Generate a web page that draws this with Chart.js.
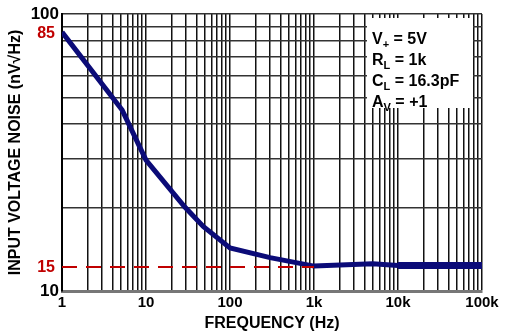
<!DOCTYPE html>
<html>
<head>
<meta charset="utf-8">
<script src="https://cdn.jsdelivr.net/npm/chart.js@4"></script>
<style>
  html, body { margin: 0; padding: 0; background: #fff; }
  #wrap { width: 509px; height: 335px; }
</style>
</head>
<body>
<div id="wrap"><canvas id="noise-chart" width="509" height="335"></canvas></div>
<script>
// values
const freq = [1, 5.2, 10, 29, 48, 100, 300, 1000, 5000, 10000];
const noise = [86, 45, 29.7, 20.1, 17.1, 14.3, 13.2, 12.3, 12.55, 12.35];
const flatFreq = [10000, 100000];
const flatNoise = [12.35, 12.35];
const refFreq = [1, 1000];
const refNoise = [12.2, 12.2];
const xTickLabels = { 1: "1", 10: "10", 100: "100", 1000: "1k", 10000: "10k", 100000: "100k" };
const yTickLabels = { 10: "10", 100: "100" };
const markLabels = ["85", "15"];
const markValues = [86, 12.2];
const boxLines = [["V", "+", " = 5V"], ["R", "L", " = 1k"], ["C", "L", " = 16.3pF"], ["A", "V", " = +1"]];

const FONT = "'Liberation Sans', Arial, sans-serif";

function xy(xs, ys) {
  return xs.map((x, i) => ({ x: x, y: ys[i] }));
}

const overlay = {
  id: "overlay",
  afterDraw(chart) {
    const ctx = chart.ctx;
    const ys = chart.scales.y;
    ctx.save();
    // red marker labels on the left
    ctx.font = "bold 16px " + FONT;
    ctx.fillStyle = "#c00000";
    ctx.textAlign = "right";
    ctx.textBaseline = "middle";
    markLabels.forEach((t, i) => {
      ctx.fillText(t, 55, ys.getPixelForValue(markValues[i]) + 1);
    });
    // conditions box
    ctx.fillStyle = "#fff";
    ctx.fillRect(367, 18, 106, 90);
    ctx.fillStyle = "#000";
    ctx.textAlign = "left";
    ctx.textBaseline = "alphabetic";
    boxLines.forEach((parts, i) => {
      const y = 44 + i * 21;
      let x = 372;
      ctx.font = "bold 16px " + FONT;
      ctx.fillText(parts[0], x, y);
      x += ctx.measureText(parts[0]).width;
      ctx.font = "bold 11px " + FONT;
      ctx.fillText(parts[1], x, y + 4);
      x += ctx.measureText(parts[1]).width;
      ctx.font = "bold 16px " + FONT;
      ctx.fillText(parts[2], x, y);
    });
    ctx.restore();
  }
};

function logTicks(min, max) {
  const out = [];
  for (let d = min; d < max; d *= 10) {
    for (let k = 1; k < 10; k++) out.push({ value: d * k });
  }
  out.push({ value: max });
  return out;
}

new Chart(document.getElementById("noise-chart"), {
  type: "line",
  data: {
    datasets: [
      {
        data: xy(refFreq, refNoise),
        borderColor: "#c00000",
        borderWidth: 2,
        borderDash: [15, 9],
        pointRadius: 0
      },
      {
        data: xy(freq, noise),
        borderColor: "#0b0b78",
        borderWidth: 5,
        pointRadius: 0,
        tension: 0
      },
      {
        data: xy(flatFreq, flatNoise),
        borderColor: "#0b0b78",
        borderWidth: 7,
        pointRadius: 0
      }
    ]
  },
  options: {
    responsive: false,
    animation: false,
    layout: { padding: { top: 14, right: 27, left: 0, bottom: 0 } },
    plugins: { legend: { display: false }, tooltip: { enabled: false } },
    scales: {
      x: {
        type: "logarithmic",
        min: 1,
        max: 100000,
        afterBuildTicks: (s) => { s.ticks = logTicks(1, 100000); },
        afterFit: (s) => { s.height = 44; },
        grid: { color: "#111", lineWidth: 1.5, drawTicks: false },
        border: { color: "#777", width: 3 },
        ticks: {
          autoSkip: false,
          maxRotation: 0,
          padding: 3,
          color: "#000",
          font: { family: FONT, size: 15, weight: "bold" },
          callback: (v) => xTickLabels[v] || ""
        },
        title: {
          display: true,
          text: "FREQUENCY (Hz)",
          color: "#000",
          font: { family: FONT, size: 16, weight: "bold" },
          padding: { top: 0, bottom: 2 }
        }
      },
      y: {
        type: "logarithmic",
        min: 10,
        max: 100,
        afterBuildTicks: (s) => { s.ticks = logTicks(10, 100); },
        afterFit: (s) => { s.width = 62; },
        grid: { color: "#333", lineWidth: 1.5, drawTicks: false },
        border: { color: "#000", width: 2 },
        ticks: {
          autoSkip: false,
          padding: 3,
          color: "#000",
          font: { family: FONT, size: 17, weight: "bold" },
          callback: (v) => yTickLabels[v] || ""
        },
        title: {
          display: true,
          text: "INPUT VOLTAGE NOISE (nV\u221AHz)",
          color: "#000",
          font: { family: FONT, size: 16, weight: "bold" },
          padding: { top: 6, bottom: 0 }
        }
      }
    }
  },
  plugins: [overlay]
});
</script>
</body>
</html>
